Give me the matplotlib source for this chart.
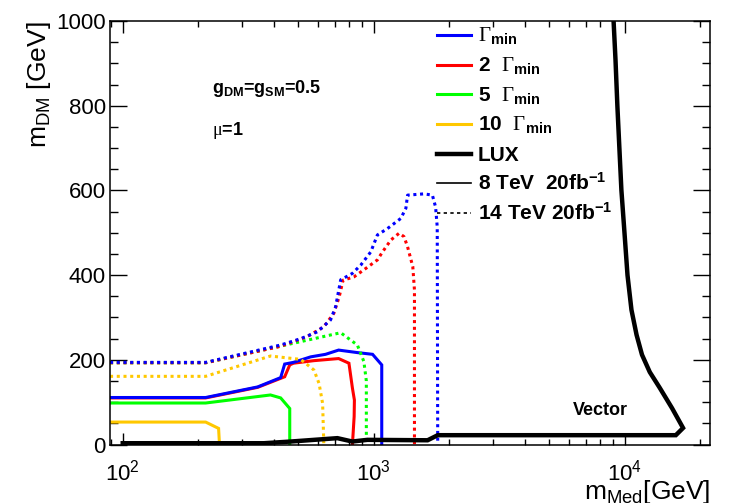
import matplotlib.pyplot as plt
from matplotlib.ticker import MultipleLocator, LogLocator, NullFormatter

# Polices : texte en Helvetica-like, Gamma/mu en serif
plt.rcParams['font.family'] = ['Liberation Sans', 'DejaVu Sans']
plt.rcParams['mathtext.fontset'] = 'custom'
plt.rcParams['mathtext.rm'] = 'Liberation Serif'
plt.rcParams['mathtext.sf'] = 'Liberation Sans'
plt.rcParams['mathtext.bf'] = 'Liberation Sans:bold'
plt.rcParams['mathtext.it'] = 'Liberation Sans:italic'

# ── Contours d'exclusion (m_Med, m_DM) en GeV ─────────────────────────
# 8 TeV 20 fb-1 (traits pleins)
med_1g_8  = [89, 214, 345, 426, 442, 479, 561, 643, 725, 863, 990, 1077, 1077]
dm_1g_8   = [111, 111, 136, 158, 190, 194, 207, 213, 223, 217, 213, 188, 0]
med_2g_8  = [89, 214, 345, 442, 463, 479, 577, 725, 797, 823, 838, 836, 823]
dm_2g_8   = [110, 110, 135, 160, 188, 192, 198, 203, 192, 133, 105, 66, 0]
med_5g_8  = [89, 214, 388, 426, 463, 463]
dm_5g_8   = [98, 98, 117, 110, 85, 0]
med_10g_8 = [89, 214, 241, 243]
dm_10g_8  = [53, 53, 38, 0]

# 14 TeV 20 fb-1 (pointillés)
med_1g_14  = [89, 214, 426, 512, 596, 673, 705, 739, 822, 889, 974, 1035,
              1135, 1283, 1344, 1365, 1588, 1714, 1765, 1792, 1800]
dm_1g_14   = [194, 194, 235, 250, 266, 294, 325, 389, 404, 424, 455, 495,
              510, 534, 558, 589, 592, 589, 561, 514, 0]
med_2g_14  = [89, 214, 426, 544, 633, 694, 729, 755, 835, 931, 1035, 1085,
              1171, 1263, 1321, 1365, 1432, 1454, 1454]
dm_2g_14   = [193, 193, 232, 255, 278, 310, 349, 388, 396, 416, 436, 455,
              483, 499, 491, 467, 420, 365, 0]
med_5g_14  = [89, 214, 739, 861, 914, 935, 935]
dm_5g_14   = [193, 193, 264, 235, 196, 150, 0]
med_10g_14 = [89, 214, 388, 512, 578, 606, 626, 633]
dm_10g_14  = [161, 161, 209, 201, 176, 144, 97, 0]

# Limite LUX
med_lux = [100, 365, 467, 717, 822, 944, 1640, 1800, 16000, 17100, 15450,
           13800, 12600, 11730, 11160, 10650, 10270, 9990, 9710, 9540,
           9360, 9200, 9036]
dm_lux  = [3, 3, 7, 15, 7, 11, 10, 22, 22, 39, 86,
           134, 171, 212, 259, 318, 400, 500, 601, 696,
           799, 908, 1002]

couleurs = {'1': '#0000ff', '2': '#ff0000', '5': '#00ff00', '10': '#ffc800'}
pointille = (0, (1, 1.2))

fig = plt.figure(figsize=(7.47, 5.03), dpi=100)
ax = fig.add_axes([0.1473, 0.1163, 0.8032, 0.8417])

courbes = [
    (med_10g_8, dm_10g_8, '10', '-'), (med_5g_8, dm_5g_8, '5', '-'),
    (med_2g_8, dm_2g_8, '2', '-'), (med_1g_8, dm_1g_8, '1', '-'),
    (med_10g_14, dm_10g_14, '10', pointille), (med_5g_14, dm_5g_14, '5', pointille),
    (med_2g_14, dm_2g_14, '2', pointille), (med_1g_14, dm_1g_14, '1', pointille),
]
for mx, my, cle, style in courbes:
    ax.plot(mx, my, color=couleurs[cle], lw=2.2, linestyle=style,
            dash_capstyle='butt', solid_joinstyle='miter')

ax.plot(med_lux, dm_lux, color='black', lw=3.2, solid_joinstyle='miter')

# Axes style ROOT
ax.set_xscale('log')
ax.set_xlim(89, 21900)
ax.set_ylim(0, 1000)
ax.yaxis.set_major_locator(MultipleLocator(200))
ax.yaxis.set_minor_locator(MultipleLocator(50))
ax.xaxis.set_minor_locator(LogLocator(base=10, subs=range(2, 10)))
ax.xaxis.set_minor_formatter(NullFormatter())
ax.tick_params(which='both', direction='in', top=True, right=True, width=1,
               labelsize=16)
ax.tick_params(axis='y', which='major', length=12, pad=3)
ax.tick_params(axis='y', which='minor', length=6)
ax.tick_params(axis='x', which='major', length=8.5, pad=11)
ax.tick_params(axis='x', which='minor', length=4.3)
for s in ax.spines.values():
    s.set_linewidth(1.1)

ax.set_ylabel(r'm$_{\mathsf{DM}}$ [GeV]', fontsize=19, loc='top')
ax.yaxis.set_label_coords(-0.095, 1.0)
ax.set_xlabel(r'm$_{\mathsf{Med}}$[GeV]', fontsize=19, loc='right')
ax.xaxis.set_label_coords(1.0, -0.078)

# Légende dessinée à la main
entrees = [
    (r'$\Gamma_{\mathbf{min}}$', couleurs['1'], 2.2, '-'),
    (r'2  $\Gamma_{\mathbf{min}}$', couleurs['2'], 2.2, '-'),
    (r'5  $\Gamma_{\mathbf{min}}$', couleurs['5'], 2.2, '-'),
    (r'10  $\Gamma_{\mathbf{min}}$', couleurs['10'], 2.2, '-'),
    ('LUX', 'black', 3.2, '-'),
    (r'8 TeV  20fb$^{\mathbf{-1}}$', 'black', 1.2, '-'),
    (r'14 TeV 20fb$^{\mathbf{-1}}$', 'black', 1.2, (0, (2, 2))),
]
y0, dy = 0.967, 0.0700
for i, (txt, c, lw, ls) in enumerate(entrees):
    y = y0 - i * dy
    ax.plot([0.5445, 0.6012], [y, y], transform=ax.transAxes, color=c, lw=lw,
            linestyle=ls, clip_on=False)
    ax.text(0.6133, y - 0.0165, txt, transform=ax.transAxes, fontsize=15,
            fontweight='bold', va='baseline', ha='left')

ax.text(0.1695, 0.830, r'g$_{\mathbf{DM}}$=g$_{\mathbf{SM}}$=0.5',
        transform=ax.transAxes, fontsize=13, fontweight='bold', va='baseline')
ax.text(0.1695, 0.731, r'$\mathrm{\mu}$=1', transform=ax.transAxes,
        fontsize=13, fontweight='bold', va='baseline')
ax.text(0.772, 0.080, 'Vector', transform=ax.transAxes, fontsize=13,
        fontweight='bold', va='center')

plt.savefig('out.png', dpi=100)
